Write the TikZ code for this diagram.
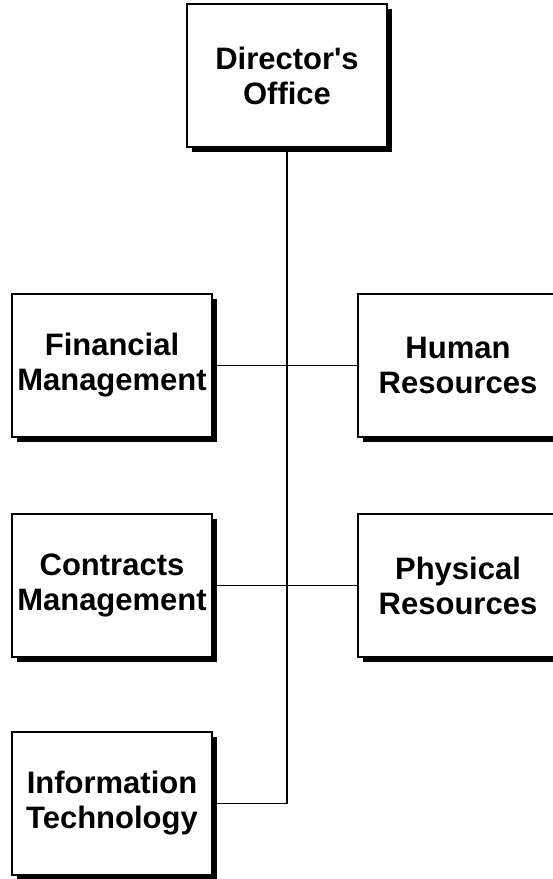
\documentclass[tikz,border=0pt]{standalone}
\usepackage{fontspec}
\setmainfont{Liberation Sans}
\usepackage{tikz}
\usetikzlibrary{positioning,shadows}

\begin{document}
\begin{tikzpicture}[x=1pt,y=-1pt,
  unitbox/.style={draw,fill=white,line width=1.3pt,minimum width=200pt,minimum height=143pt,
    inner sep=0pt,align=center,font=\fontsize{31}{35}\selectfont\bfseries,
    drop shadow={shadow xshift=4.5pt,shadow yshift=-4.5pt,fill=black,opacity=1}},
  link/.style={line width=1.2pt}]
\useasboundingbox (0,0) rectangle (553,879);
\clip (0,0) rectangle (553,879);
% top of the chart
\node[unitbox] (dir) at (287,75.5) {Director\textquotesingle s\\Office};
% left column
\node[unitbox] (fin) at (112,365.5) {Financial\\Management};
\node[unitbox] (con) at (112,585.5) {Contracts\\Management};
\node[unitbox] (it) at (112,803.5) {Information\\Technology};
% right column, cut at the page edge
\node[unitbox] (hr) at (458,365.5) {Human\\Resources};
\node[unitbox] (phy) at (458,585.5) {Physical\\Resources};
% connectors
\draw[link] (fin.east) -- (hr.west);
\draw[link] (con.east) -- (phy.west);
\draw[link] (dir.south) -- (dir.south |- it.east) -- (it.east);
\end{tikzpicture}
\end{document}
